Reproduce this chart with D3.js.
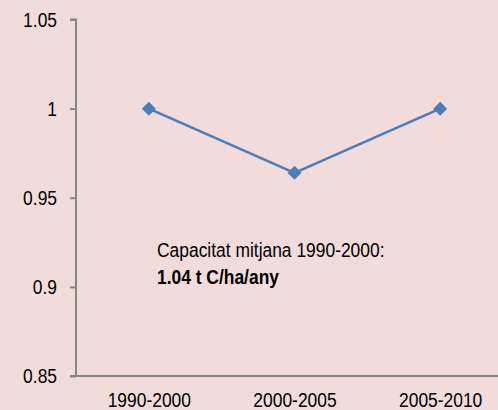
<!DOCTYPE html>
<html><head><meta charset="utf-8">
<script src="https://cdn.jsdelivr.net/npm/d3@7"></script>
<style>
html,body{margin:0;padding:0;background:#f2dcdb;}
svg{display:block;}
text{font-family:"Liberation Sans",Arial,sans-serif;fill:#000;}
</style></head>
<body>
<script>
const categories = ["1990-2000","2000-2005","2005-2010"];
const values = [1.0, 0.964, 1.0];
const yTicks = [0.85, 0.9, 0.95, 1, 1.05];
const noteLine1 = "Capacitat mitjana 1990-2000:";
const noteLine2 = "1.04 t C/ha/any";

const W = 498, H = 410, FS = 21, SX = 0.83;
const svg = d3.select("body").append("svg").attr("width", W).attr("height", H);
svg.append("rect").attr("width", W).attr("height", H).attr("fill", "#f2dcdb");

const x0 = 76, x1 = 513, yTop = 19.5, yBot = 376;
const x = d3.scalePoint().domain(categories).range([x0, x1]).padding(0.5);
const y = d3.scaleLinear().domain([0.85, 1.05]).range([yBot, yTop]);

// y axis
const yAxis = svg.append("g").attr("transform", `translate(${x0},0)`)
  .call(d3.axisLeft(y).tickValues(yTicks).tickSize(6).tickPadding(13)
        .tickFormat(d => String(+d.toFixed(2))));
yAxis.select(".domain").attr("stroke", "#868686").attr("stroke-width", 2).attr("d", `M-6,${yTop}H0V${yBot}`);
yAxis.selectAll(".tick line").attr("stroke", "#868686").attr("stroke-width", 2);
yAxis.selectAll("text").attr("font-size", FS).attr("fill", "#000")
  .attr("x", -19 / SX).attr("transform", `scale(${SX},1)`);

// x axis
const xAxis = svg.append("g").attr("transform", `translate(0,${yBot})`)
  .call(d3.axisBottom(x).tickSize(0).tickPadding(16.5));
xAxis.select(".domain").attr("stroke", "#868686").attr("stroke-width", 2).attr("d", `M${x0-6},0H${x1}`);
xAxis.selectAll("text").attr("font-size", FS).attr("fill", "#000").attr("transform", `scale(${SX},1)`);

// line
const pts = categories.map((c, i) => [x(c), y(values[i])]);
svg.append("path").attr("d", d3.line()(pts)).attr("fill", "none")
  .attr("stroke", "#4a7ebb").attr("stroke-width", 2.5);
svg.selectAll(".m").data(pts).enter().append("path")
  .attr("transform", d => `translate(${d[0]},${d[1]})`)
  .attr("d", "M0,-7L7,0L0,7L-7,0Z").attr("fill", "#4a7ebb");

// annotation
svg.append("text").attr("transform", `translate(157,257) scale(${SX},1)`).attr("font-size", FS).text(noteLine1);
svg.append("text").attr("transform", `translate(157,284) scale(${SX},1)`).attr("font-size", FS).attr("font-weight", "bold").text(noteLine2);
</script>
</body></html>
